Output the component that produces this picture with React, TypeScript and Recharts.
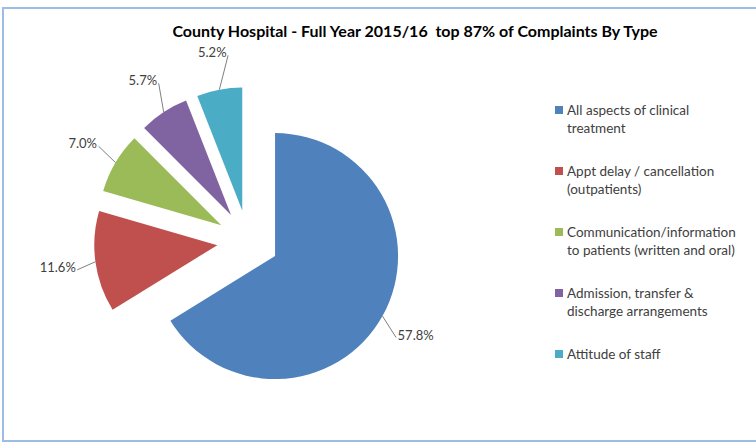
import { PieChart, Pie, Cell, Sector, Legend } from 'recharts'

const categories = [
  'All aspects of clinical treatment',
  'Appt delay / cancellation (outpatients)',
  'Communication/information to patients (written and oral)',
  'Admission, transfer & discharge arrangements',
  'Attitude of staff',
]
const shares = [57.8, 11.6, 7.0, 5.7, 5.2]
const colors = ['#4f81bd', '#c0504d', '#9bbb59', '#8064a2', '#4bacc6']

const data = categories.map((name, i) => ({ name, value: shares[i] }))

const RAD = Math.PI / 180
const EXPLODE = 31
const FONT = 'Lato, "Open Sans", sans-serif'

// every slice pushed out along its own mid angle, like Excel's point explosion
function ExplodedSlice(props: any) {
  const { cx, cy, midAngle } = props
  const dx = EXPLODE * Math.cos(-midAngle * RAD)
  const dy = EXPLODE * Math.sin(-midAngle * RAD)
  return <Sector {...props} cx={cx + dx} cy={cy + dy} />
}

function SliceLabel(props: any) {
  const { cx, cy, midAngle, outerRadius, value } = props
  const cos = Math.cos(-midAngle * RAD)
  const sin = Math.sin(-midAngle * RAD)
  const text = `${value.toFixed(1)}%`
  const r1 = outerRadius + EXPLODE
  const rl = r1 + 38
  const x1 = cx + r1 * cos
  const y1 = cy + r1 * sin
  const lx = cx + rl * cos
  const ly = cy + rl * sin
  const half = text.length * 3.7 + 1
  const ex = x1 > lx ? lx + half : lx - half
  return (
    <g>
      <polyline points={`${x1},${y1} ${ex},${ly + 3}`} stroke="#7f7f7f" strokeWidth={1} fill="none" />
      <text
        x={lx}
        y={ly}
        textAnchor="middle"
        dominantBaseline="central"
        fontSize={13}
        fontFamily={FONT}
        fill="#404040"
      >
        {text}
      </text>
    </g>
  )
}

function LegendList({ payload }: any) {
  const items = [...(payload || [])].sort(
    (a: any, b: any) => categories.indexOf(a.value) - categories.indexOf(b.value)
  )
  return (
    <div style={{ fontFamily: FONT, fontSize: 13.5, color: '#404040', lineHeight: '18px' }}>
      {items.map((p: any, i: number) => (
        <div key={i} style={{ display: 'flex', alignItems: 'flex-start', height: 61 }}>
          <span style={{ width: 8, height: 8, background: p.color, marginTop: 5, marginRight: 4, flex: 'none' }} />
          <span style={{ width: 180 }}>{p.value}</span>
        </div>
      ))}
    </div>
  )
}

export default function App() {
  return (
    <div style={{ position: 'absolute', left: 0, top: 0, width: 756, height: 446, overflow: 'hidden', background: '#fff' }}>
      <div
        style={{
          position: 'absolute',
          left: 2,
          top: 7,
          width: 780,
          height: 431,
          border: '2px solid #9dbde6',
        }}
      />
      <div
        style={{
          position: 'absolute',
          left: 0,
          width: 830,
          top: 21,
          textAlign: 'center',
          fontFamily: FONT,
          fontWeight: 700,
          fontSize: 16,
          color: '#000',
          whiteSpace: 'pre',
        }}
      >
        County Hospital - Full Year 2015/16  top 87% of Complaints By Type
      </div>
      <PieChart
        width={756}
        height={446}
        margin={{ top: 0, right: 0, bottom: 0, left: 0 }}
        style={{ position: 'absolute', left: 0, top: 0 }}
      >
        <Pie
          data={data}
          dataKey="value"
          nameKey="name"
          cx={248}
          cy={241}
          outerRadius={123}
          startAngle={90}
          endAngle={-270}
          stroke="none"
          shape={ExplodedSlice}
          label={SliceLabel}
          labelLine={false}
          isAnimationActive={false}
        >
          {data.map((d, i) => (
            <Cell key={d.name} fill={colors[i]} />
          ))}
        </Pie>
        <Legend
          layout="vertical"
          align="right"
          verticalAlign="top"
          content={LegendList}
          wrapperStyle={{ left: 555, top: 101, width: 200 }}
        />
      </PieChart>
    </div>
  )
}
